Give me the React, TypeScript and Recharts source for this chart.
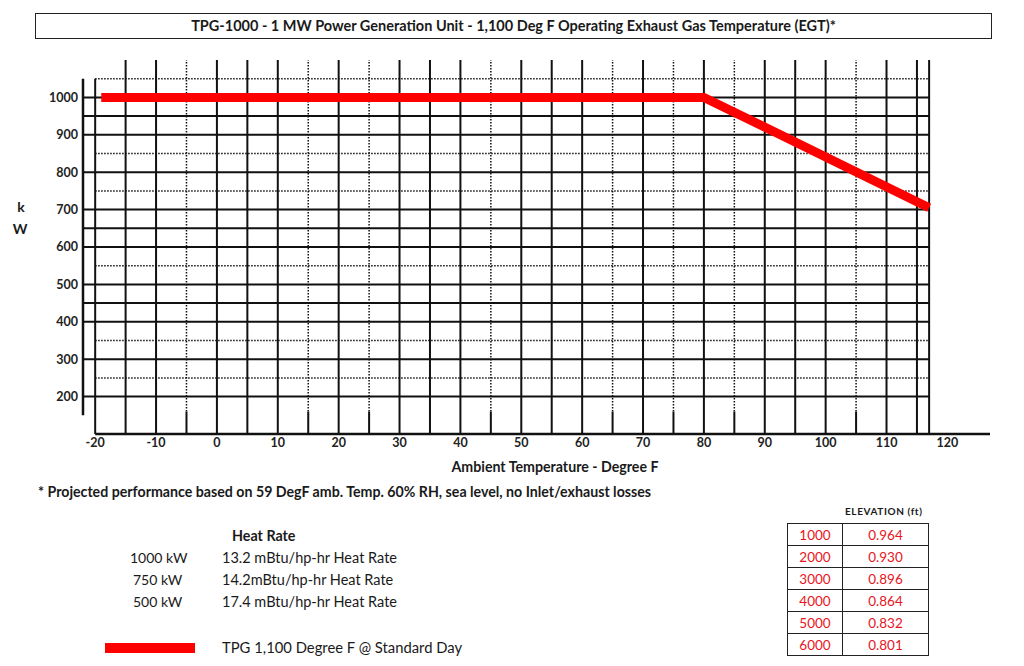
import { LineChart, Line, XAxis, YAxis, ReferenceLine } from "recharts"

// power curve: flat to 80 F, then derates to the grid edge
const temps = [-19, 80, 117]
const outputKw = [1000, 1000, 705]

const xTicks = [-20, -10, 0, 10, 20, 30, 40, 50, 60, 70, 80, 90, 100, 110, 120]
const yTicks = [200, 300, 400, 500, 600, 700, 800, 900, 1000]

// grid lines as drawn in the sheet (mix of solid and dotted)
const solidX = [-20, -15, -10, 0, 5, 10, 20, 30, 35, 40, 50, 55, 60, 70, 80, 90, 95, 100, 110, 115, 117]
const dottedX = [-5, 15, 25, 45, 65, 75, 85, 105]
const solidY = [200, 300, 400, 450, 500, 600, 650, 700, 800, 900, 950, 1000]
const dottedY = [250, 350, 550, 750, 850, 1050]

const heatLoads = ["1000 kW", "750 kW", "500 kW"]
const heatRateText = ["13.2 mBtu/hp-hr Heat Rate", "14.2mBtu/hp-hr Heat Rate", "17.4 mBtu/hp-hr Heat Rate"]

const elevations = ["1000", "2000", "3000", "4000", "5000", "6000"]
const elevationFactors = ["0.964", "0.930", "0.896", "0.864", "0.832", "0.801"]

const seriesName = "TPG 1,100 Degree F @ Standard Day"
const title = "TPG-1000 - 1 MW Power Generation Unit - 1,100 Deg F Operating Exhaust Gas Temperature (EGT)*"

const data = temps.map((t, i) => ({ temp: t, kw: outputKw[i] }))

const FONT = "Lato, 'Open Sans', sans-serif"
const INK = "#111"
const RED = "#ff0000"

const X_AXIS_POS = -22
const X_EDGE = 117
const Y_BOTTOM = 100
const Y_TOP = 1100

const abs = (left: number, top: number, extra: React.CSSProperties = {}): React.CSSProperties => ({
  position: "absolute",
  left,
  top,
  whiteSpace: "nowrap",
  ...extra,
})

export default function App() {
  return (
    <div style={{ position: "absolute", left: 0, top: 0, width: 1024, height: 666, background: "#fff", fontFamily: FONT, color: "#1a1a1a" }}>
      <LineChart
        width={1024}
        height={666}
        data={data}
        margin={{ top: 60, right: 34, bottom: 202, left: 33 }}
      >
        <XAxis
          dataKey="temp"
          type="number"
          domain={[X_AXIS_POS, 127]}
          ticks={xTicks}
          axisLine={false}
          tickLine={false}
          tickSize={2}
          height={30}
          tick={{ fontSize: 12.5, fontWeight: 700, fill: "#222", fontFamily: FONT }}
        />
        <YAxis
          type="number"
          domain={[Y_BOTTOM, Y_TOP]}
          ticks={yTicks}
          axisLine={false}
          tickLine={false}
          tickSize={3}
          width={50}
          tick={{ fontSize: 12.5, fontWeight: 700, fill: "#222", fontFamily: FONT }}
        />

        {solidY.map((y) => (
          <ReferenceLine key={"sy" + y} segment={[{ x: X_AXIS_POS, y }, { x: X_EDGE, y }]} stroke={INK} strokeWidth={2} />
        ))}
        {dottedY.map((y) => (
          <ReferenceLine key={"dy" + y} segment={[{ x: -20, y }, { x: X_EDGE, y }]} stroke={INK} strokeWidth={1.5} strokeDasharray="1.5 1.5" />
        ))}
        {solidX.map((x) => (
          <ReferenceLine key={"sx" + x} segment={[{ x, y: Y_BOTTOM }, { x, y: x === -20 ? 1050 : Y_TOP }]} stroke={INK} strokeWidth={2} />
        ))}
        {dottedX.map((x) => (
          <ReferenceLine key={"dx" + x} segment={[{ x, y: 160 }, { x, y: Y_TOP }]} stroke={INK} strokeWidth={1.5} strokeDasharray="1.5 1.5" />
        ))}
        {dottedX.map((x) => (
          <ReferenceLine key={"dxb" + x} segment={[{ x, y: Y_BOTTOM }, { x, y: 160 }]} stroke={INK} strokeWidth={2} />
        ))}
        {/* axis lines */}
        <ReferenceLine segment={[{ x: -20, y: Y_BOTTOM }, { x: 127, y: Y_BOTTOM }]} stroke={INK} strokeWidth={2.5} />
        <ReferenceLine segment={[{ x: X_AXIS_POS, y: 150 }, { x: X_AXIS_POS, y: 1050 }]} stroke={INK} strokeWidth={2.5} />

        <Line
          dataKey="kw"
          name={seriesName}
          stroke={RED}
          strokeWidth={9}
          dot={false}
          activeDot={false}
          strokeLinejoin="miter"
          isAnimationActive={false}
        />
      </LineChart>

      <div
        style={abs(35, 13, {
          width: 955,
          height: 24,
          border: "1.5px solid #222",
          textAlign: "center",
          lineHeight: "24px",
          fontSize: 14.5,
          fontWeight: 700,
        })}
      >
        {title}
      </div>

      <div style={abs(14, 198, { width: 14, textAlign: "center", fontSize: 14, fontWeight: 700 })}>k</div>
      <div style={abs(12, 220, { width: 16, textAlign: "center", fontSize: 14, fontWeight: 700 })}>W</div>

      <div style={abs(445, 458, { width: 220, textAlign: "center", fontSize: 14.2, fontWeight: 700 })}>
        Ambient Temperature - Degree F
      </div>
      <div style={abs(38, 483, { fontSize: 14.2, fontWeight: 700 })}>
        * Projected performance based on 59 DegF amb. Temp. 60% RH, sea level, no Inlet/exhaust losses
      </div>

      <div style={abs(232, 527, { fontSize: 14.3, fontWeight: 700 })}>Heat Rate</div>
      {heatLoads.map((load, i) => (
        <div key={load}>
          <div style={abs(130 + (load.length < 7 ? 3 : 0), 549 + i * 22, { fontSize: 14 })}>{load}</div>
          <div style={abs(222, 549 + i * 22, { fontSize: 14.5 })}>{heatRateText[i]}</div>
        </div>
      ))}

      <div style={abs(105, 643, { width: 90, height: 10, background: RED })} />
      <div style={abs(222, 638, { fontSize: 14.8 })}>{seriesName}</div>

      <div style={abs(845, 505, { fontSize: 10, fontWeight: 700, letterSpacing: 0.6 })}>ELEVATION (ft)</div>
      <table
        style={{
          position: "absolute",
          left: 787,
          top: 523,
          borderCollapse: "collapse",
          fontFamily: FONT,
          fontSize: 13.5,
          color: "#e8141e",
        }}
      >
        <tbody>
          {elevations.map((e, i) => (
            <tr key={e} style={{ height: 22 }}>
              <td style={{ width: 54, border: "1.5px solid #222", textAlign: "center", padding: 0 }}>{e}</td>
              <td style={{ width: 85, border: "1.5px solid #222", textAlign: "center", padding: 0 }}>{elevationFactors[i]}</td>
            </tr>
          ))}
        </tbody>
      </table>
    </div>
  )
}
